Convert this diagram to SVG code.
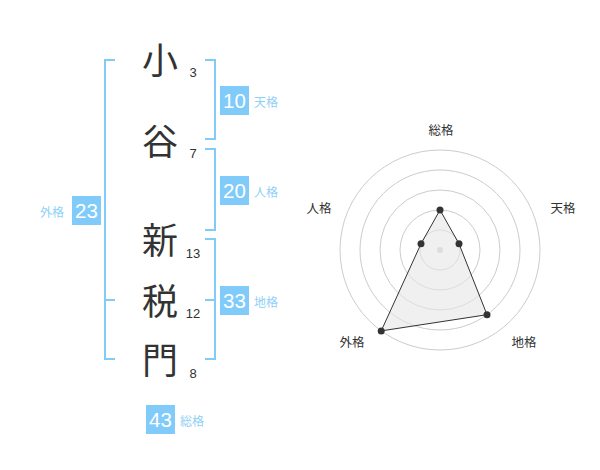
<svg xmlns="http://www.w3.org/2000/svg" width="600" height="470" viewBox="0 0 600 470">
<style>
.br{fill:none;stroke:#80cbfa;stroke-width:2}
.box{fill:#80cbfa}
.bn{font-family:"Liberation Sans",Arial,sans-serif;font-size:20.5px;fill:#fff;text-anchor:middle}
.lb{font-family:"Noto Sans CJK JP","Noto Sans",sans-serif;font-size:12px;fill:#8fd0f8}
.kj{font-family:"Noto Sans CJK JP",sans-serif;font-size:36px;fill:#333;text-anchor:middle}
.st{font-family:"Liberation Sans",Arial,sans-serif;font-size:13px;fill:#333;text-anchor:middle}
.rl{font-family:"Noto Sans CJK JP","Noto Sans",sans-serif;font-size:12.5px;fill:#333;text-anchor:middle}
.ring{fill:none;stroke:#ccc;stroke-width:1}
.pt{fill:#333}
</style>
<rect width="600" height="470" fill="#fff"/>
<g id="connectors">
<path class="br" d="M115,60 H105 V359 H115 M105,300 H115"/>
<path class="br" d="M205,60 H215 V139 H205"/>
<path class="br" d="M205,149 H215 V230 H205"/>
<path class="br" d="M205,239 H215 V359 H205 M215,300 H205"/>
</g>
<g id="name">
<text class="kj" x="160" y="74">小</text>
<text class="kj" x="160" y="155">谷</text>
<text class="kj" x="160" y="254">新</text>
<text class="kj" x="160" y="315">税</text>
<text class="kj" x="160" y="374">門</text>
<text class="st" x="193" y="77">3</text>
<text class="st" x="193" y="158">7</text>
<text class="st" x="193" y="258">13</text>
<text class="st" x="193" y="318">12</text>
<text class="st" x="193" y="378">8</text>
</g>
<g id="tenkaku">
<rect class="box" x="220" y="86" width="29" height="29"/>
<text class="bn" x="234.5" y="108">10</text>
<text class="lb" x="254" y="107">天格</text>
</g>
<g id="jinkaku">
<rect class="box" x="220" y="176" width="29" height="29"/>
<text class="bn" x="234.5" y="198">20</text>
<text class="lb" x="254" y="197">人格</text>
</g>
<g id="chikaku">
<rect class="box" x="220" y="286" width="29" height="29"/>
<text class="bn" x="234.5" y="308">33</text>
<text class="lb" x="254" y="307">地格</text>
</g>
<g id="gaikaku">
<rect class="box" x="72" y="196" width="29" height="29"/>
<text class="bn" x="86.5" y="218">23</text>
<text class="lb" x="40" y="217">外格</text>
</g>
<g id="soukaku">
<rect class="box" x="146" y="405" width="29" height="29"/>
<text class="bn" x="160.5" y="427">43</text>
<text class="lb" x="180" y="426">総格</text>
</g>
<g id="radar">
<circle class="ring" cx="440" cy="250" r="20"/>
<circle class="ring" cx="440" cy="250" r="40"/>
<circle class="ring" cx="440" cy="250" r="60"/>
<circle class="ring" cx="440" cy="250" r="80"/>
<circle class="ring" cx="440" cy="250" r="100"/>
<circle cx="440" cy="250" r="3" fill="#ccc"/>
<polygon points="440,210 459,243.8 487,314.7 381.2,330.9 421,243.8" fill="#e6e6e6" fill-opacity="0.6" stroke="#333" stroke-width="1"/>
<circle class="pt" cx="440" cy="210" r="3.5"/>
<circle class="pt" cx="459" cy="243.8" r="3.5"/>
<circle class="pt" cx="487" cy="314.7" r="3.5"/>
<circle class="pt" cx="381.2" cy="330.9" r="3.5"/>
<circle class="pt" cx="421" cy="243.8" r="3.5"/>
<text class="rl" x="441" y="135">総格</text>
<text class="rl" x="563" y="213">天格</text>
<text class="rl" x="319" y="213">人格</text>
<text class="rl" x="352" y="347">外格</text>
<text class="rl" x="524" y="347">地格</text>
</g>
</svg>
